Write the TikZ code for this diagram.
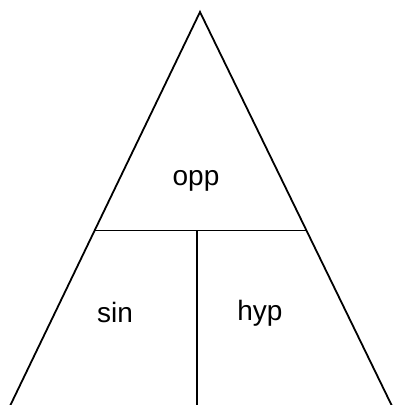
\documentclass[tikz,border=0pt]{standalone}
\usepackage{fontspec}
\setmainfont{Liberation Sans}
\usetikzlibrary{calc}

\begin{document}
\begin{tikzpicture}[x=1pt,y=-1pt,
  sd/.style={line width=1.8pt,line cap=butt,line join=miter},
  lb/.style={font=\fontsize{28}{32}\selectfont,anchor=base,inner sep=0pt}]
\useasboundingbox (0,0) rectangle (393,405);

% --- outer triangle ---
\coordinate (top) at (200,12);
\coordinate (bl)  at (10,406);
\coordinate (br)  at (392,406);
\draw[sd] (bl) -- (top) -- (br);

% --- split lines ---
\coordinate (ml) at ($(top)!0.5547!(bl)$);
\coordinate (mr) at ($(top)!0.5547!(br)$);
\coordinate (vt) at (197,230);
\coordinate (vb) at (197,406);
\draw[sd] (ml) -- (mr);
\draw[sd] (vt) -- (vb);

% --- labels ---
\node[lb] (opp) at (196,185) {opp};
\node[lb] (sin) at (115,322) {sin};
\node[lb] (hyp) at (260,320) {hyp};
\end{tikzpicture}
\end{document}
